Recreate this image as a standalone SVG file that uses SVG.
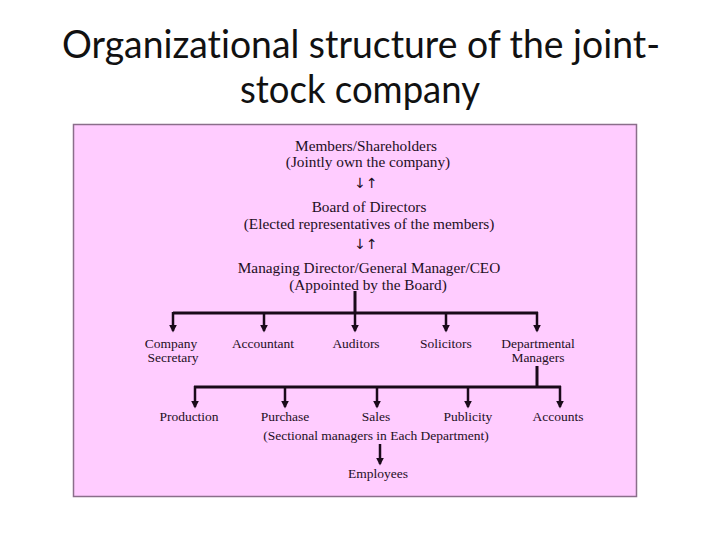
<svg xmlns="http://www.w3.org/2000/svg" width="720" height="540" viewBox="0 0 720 540">
<style>
.title{font-family:Lato,"Liberation Sans",sans-serif;font-size:38px;fill:#111;text-anchor:middle;font-variant-ligatures:none}
.t1{font-family:"Liberation Serif",serif;font-size:15.3px;fill:#1e0f1e;text-anchor:middle}
.t2{font-family:"Liberation Serif",serif;font-size:13.5px;fill:#1e0f1e;text-anchor:middle}
.ar{font-family:"DejaVu Sans",sans-serif;font-size:14px;fill:#1e0f1e;text-anchor:middle}
.ln{stroke:#1a0a1a;stroke-width:3;fill:none}
.lv{stroke:#1a0a1a;stroke-width:2.5;fill:none;marker-end:url(#ah)}
</style>
<defs>
<marker id="ah" viewBox="0 0 10 10" refX="8" refY="5" markerWidth="3.2" markerHeight="3.2" orient="auto" markerUnits="strokeWidth">
<path d="M0,0 L10,5 L0,10 Z" fill="#1a0a1a"/>
</marker>
</defs>
<rect width="720" height="540" fill="#ffffff"/>
<g id="title">
<text class="title" x="361" y="58" textLength="598" lengthAdjust="spacingAndGlyphs">Organizational structure of the joint-</text>
<text class="title" x="360" y="103" textLength="240" lengthAdjust="spacingAndGlyphs">stock company</text>
</g>
<rect id="panel" x="73.5" y="124.5" width="563" height="372" fill="#ffccff" stroke="#8a6e8a" stroke-width="1.5"/>
<g id="connectors">
<text class="ar" x="366" y="188">↓↑</text>
<text class="ar" x="366" y="249">↓↑</text>
<line class="ln" x1="355" y1="291" x2="355" y2="313"/>
<line class="ln" x1="173" y1="313" x2="538" y2="313"/>
<line class="lv" x1="173" y1="312" x2="173" y2="331"/>
<line class="lv" x1="264" y1="312" x2="264" y2="331"/>
<line class="lv" x1="355" y1="312" x2="355" y2="331"/>
<line class="lv" x1="446" y1="312" x2="446" y2="331"/>
<line class="lv" x1="537" y1="312" x2="537" y2="331"/>
<line class="ln" x1="537" y1="366" x2="537" y2="387"/>
<line class="ln" x1="194" y1="387" x2="561" y2="387"/>
<line class="lv" x1="195" y1="386" x2="195" y2="407"/>
<line class="lv" x1="285" y1="386" x2="285" y2="407"/>
<line class="lv" x1="377" y1="386" x2="377" y2="407"/>
<line class="lv" x1="468" y1="386" x2="468" y2="407"/>
<line class="lv" x1="560" y1="386" x2="560" y2="407"/>
<line class="lv" x1="380" y1="444" x2="380" y2="464"/>
</g>
<g id="shareholders">
<text class="t1" x="366" y="151">Members/Shareholders</text>
<text class="t1" x="368" y="167">(Jointly own the company)</text>
</g>
<g id="board">
<text class="t1" x="369" y="212">Board of Directors</text>
<text class="t1" x="369" y="229">(Elected representatives of the members)</text>
</g>
<g id="md">
<text class="t1" x="369" y="273">Managing Director/General Manager/CEO</text>
<text class="t1" x="368" y="290">(Appointed by the Board)</text>
</g>
<g id="secretary">
<text class="t2" x="171" y="348">Company</text>
<text class="t2" x="173" y="362">Secretary</text>
</g>
<g id="accountant"><text class="t2" x="263" y="348">Accountant</text></g>
<g id="auditors"><text class="t2" x="356" y="348">Auditors</text></g>
<g id="solicitors"><text class="t2" x="446" y="348">Solicitors</text></g>
<g id="deptmanagers">
<text class="t2" x="538" y="348">Departmental</text>
<text class="t2" x="538" y="362">Managers</text>
</g>
<g id="production"><text class="t2" x="189" y="421">Production</text></g>
<g id="purchase"><text class="t2" x="285" y="421">Purchase</text></g>
<g id="sales"><text class="t2" x="376" y="421">Sales</text></g>
<g id="publicity"><text class="t2" x="468" y="421">Publicity</text></g>
<g id="accounts"><text class="t2" x="558" y="421">Accounts</text></g>
<g id="sectional"><text class="t2" x="376" y="440">(Sectional managers in Each Department)</text></g>
<g id="employees"><text class="t2" x="378" y="478">Employees</text></g>
</svg>
